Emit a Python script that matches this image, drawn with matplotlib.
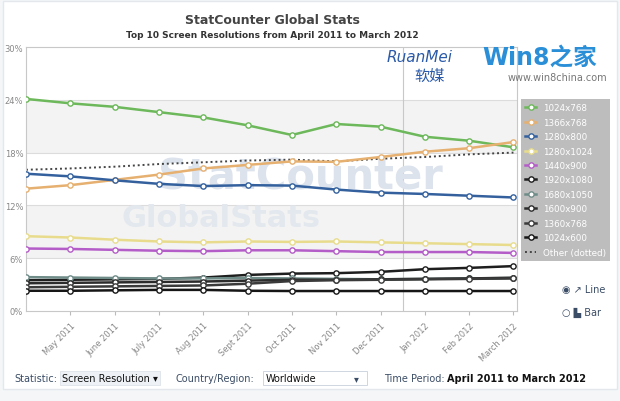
import matplotlib.pyplot as plt
from matplotlib.patches import Rectangle
plt.rcParams['font.family'] = ['DejaVu Sans', 'Noto Sans CJK SC']

months = ['April 2011', 'May 2011', 'June 2011', 'July 2011', 'Aug 2011', 'Sept 2011', 'Oct 2011',
          'Nov 2011', 'Dec 2011', 'Jan 2012', 'Feb 2012', 'March 2012']

r1024x768 = [24.1, 23.6, 23.2, 22.6, 22.0, 21.1, 20.0, 21.25, 20.95, 19.8, 19.35, 18.6]
r1366x768 = [13.9, 14.3, 14.9, 15.5, 16.2, 16.6, 17.0, 16.95, 17.5, 18.1, 18.5, 19.2]
r1280x800 = [15.6, 15.3, 14.85, 14.45, 14.2, 14.3, 14.25, 13.8, 13.45, 13.3, 13.1, 12.9]
r1280x1024 = [8.5, 8.35, 8.1, 7.9, 7.8, 7.9, 7.85, 7.9, 7.8, 7.7, 7.6, 7.5]
r1440x900 = [7.1, 7.05, 6.95, 6.85, 6.8, 6.9, 6.9, 6.8, 6.7, 6.7, 6.7, 6.6]
r1920x1080 = [3.5, 3.55, 3.6, 3.65, 3.8, 4.1, 4.25, 4.3, 4.45, 4.75, 4.9, 5.1]
r1680x1050 = [3.85, 3.8, 3.75, 3.7, 3.7, 3.75, 3.7, 3.65, 3.6, 3.65, 3.7, 3.75]
r1600x900 = [3.15, 3.2, 3.25, 3.3, 3.35, 3.45, 3.55, 3.55, 3.6, 3.65, 3.7, 3.78]
r1360x768 = [2.7, 2.75, 2.8, 2.85, 2.9, 3.1, 3.4, 3.5, 3.55, 3.6, 3.65, 3.7]
r1024x600 = [2.3, 2.3, 2.35, 2.4, 2.4, 2.3, 2.27, 2.27, 2.27, 2.27, 2.27, 2.27]
other = [16.05, 16.2, 16.4, 16.7, 16.9, 17.1, 17.2, 17.0, 17.3, 17.5, 17.8, 18.0]

series = [
    ('1024x768', r1024x768, '#6cb85a'),
    ('1366x768', r1366x768, '#e6b070'),
    ('1280x800', r1280x800, '#34619e'),
    ('1280x1024', r1280x1024, '#e8dc8c'),
    ('1440x900', r1440x900, '#b45cc8'),
    ('1920x1080', r1920x1080, '#1e1e1e'),
    ('1680x1050', r1680x1050, '#6f8c88'),
    ('1600x900', r1600x900, '#2c2c2c'),
    ('1360x768', r1360x768, '#3a3a3a'),
    ('1024x600', r1024x600, '#161616'),
]

fig = plt.figure(figsize=(6.2, 4.02), dpi=100)
fig.patch.set_facecolor('#f4f6f8')
fig.patches.append(Rectangle((3 / 620, 12 / 402), 614 / 620, 388 / 402, transform=fig.transFigure,
                             facecolor='white', edgecolor='#e4e8ec', zorder=-10))

ax = fig.add_axes([26 / 620, 90 / 402, 491 / 620, 264 / 402])
ax.set_zorder(2)
ax.patch.set_alpha(0)
x = list(range(len(months)))

# alternating bands
for lo, hi in [(18, 24), (6, 12)]:
    ax.axhspan(lo, hi, color='#f3f3f3', zorder=0, lw=0)
for yv in [6, 12, 18, 24]:
    ax.axhline(yv, color='#dcdcdc', lw=0.8, zorder=1)
ax.axvline(8.5, color='#c8c8c8', lw=0.8, zorder=1)

ax.text(6.2, 15.3, 'StatCounter', fontsize=30, fontweight='bold', color='#dce3ec',
        ha='center', va='center', zorder=1)
ax.text(4.4, 10.6, 'GlobalStats', fontsize=22, fontweight='bold', color='#e3e8ef',
        ha='center', va='center', zorder=1)

handles = []
for name, vals, col in series:
    h, = ax.plot(x, vals, color=col, lw=1.8, marker='o', ms=3.8, mfc='white', mec=col, mew=1.0,
                 zorder=3, label=name)
    handles.append(h)
h, = ax.plot(x, other, color='#444444', lw=1.4, ls=(0, (1, 1.5)), zorder=2, label='Other (dotted)')
handles.append(h)

ax.set_xlim(0, 11.08)
ax.set_ylim(0, 30)
ax.set_yticks([0, 6, 12, 18, 24, 30])
ax.set_yticklabels(['0%', '6%', '12%', '18%', '24%', '30%'], fontsize=6, color='#888888')
ax.set_xticks(x[1:])
ax.set_xticklabels(months[1:], rotation=45, ha='right', rotation_mode='anchor', fontsize=6,
                   color='#888888')
ax.tick_params(axis='both', length=3, color='#bbbbbb', pad=4)
ax.tick_params(axis='y', length=0, pad=2)
for s in ax.spines.values():
    s.set_color('#c8c8c8')
    s.set_linewidth(0.8)

leg = fig.legend(handles, [hd.get_label() for hd in handles], loc='upper left',
                 bbox_to_anchor=(517 / 620, 1 - 96 / 402), fontsize=6.3, labelcolor='white',
                 facecolor='#bdbdbd', edgecolor='none', framealpha=1, fancybox=False,
                 handlelength=1.2, handletextpad=0.8, labelspacing=0.62, borderpad=0.45)

fig.text(272 / 620, 1 - 20 / 402, 'StatCounter Global Stats', fontsize=9, fontweight='bold',
         color='#444444', ha='center', va='center')
fig.text(272 / 620, 1 - 36 / 402, 'Top 10 Screen Resolutions from April 2011 to March 2012',
         fontsize=6.5, fontweight='bold', color='#333333', ha='center', va='center')

# logo watermark
fig.text(420 / 620, 1 - 58 / 402, 'RuanMei', fontsize=11, style='italic', color='#2a5aa8',
         ha='center', va='center')
fig.text(430 / 620, 1 - 76 / 402, '软媒', fontsize=11, color='#2a5aa8', ha='center', va='center')
fig.text(540 / 620, 1 - 58 / 402, 'Win8之家', fontsize=17, fontweight='bold', color='#2b8fd8',
         ha='center', va='center')
fig.text(557 / 620, 1 - 78 / 402, 'www.win8china.com', fontsize=7, color='#777777',
         ha='center', va='center')

fig.text(562 / 620, 1 - 290 / 402, '◉ ↗ Line', fontsize=7, color='#3b4d66', ha='left', va='center')
fig.text(562 / 620, 1 - 313 / 402, '○ ▙ Bar', fontsize=7, color='#3b4d66', ha='left', va='center')

fig.text(14 / 620, 1 - 379 / 402, 'Statistic:', fontsize=7, color='#3b4d66', va='center')
fig.text(62 / 620, 1 - 379 / 402, 'Screen Resolution ▾', fontsize=7, color='#111111', va='center',
         bbox=dict(boxstyle='square,pad=0.2', facecolor='#eef2f6', edgecolor='#dde3ea', lw=0.6))
fig.text(176 / 620, 1 - 379 / 402, 'Country/Region:', fontsize=7, color='#3b4d66', va='center')
fig.patches.append(Rectangle((263 / 620, 1 - 386 / 402), 104 / 620, 14 / 402,
                             transform=fig.transFigure, facecolor='white', edgecolor='#c8d0da',
                             lw=0.6, zorder=1))
fig.text(266 / 620, 1 - 379 / 402, 'Worldwide', fontsize=7, color='#111111', va='center')
fig.text(354 / 620, 1 - 379 / 402, '▾', fontsize=7, color='#3b4d66', va='center')
fig.text(384 / 620, 1 - 379 / 402, 'Time Period:', fontsize=7, color='#3b4d66', va='center')
fig.text(447 / 620, 1 - 379 / 402, 'April 2011 to March 2012', fontsize=7, fontweight='bold',
         color='#111111', va='center')

fig.savefig('out.png', dpi=100)
